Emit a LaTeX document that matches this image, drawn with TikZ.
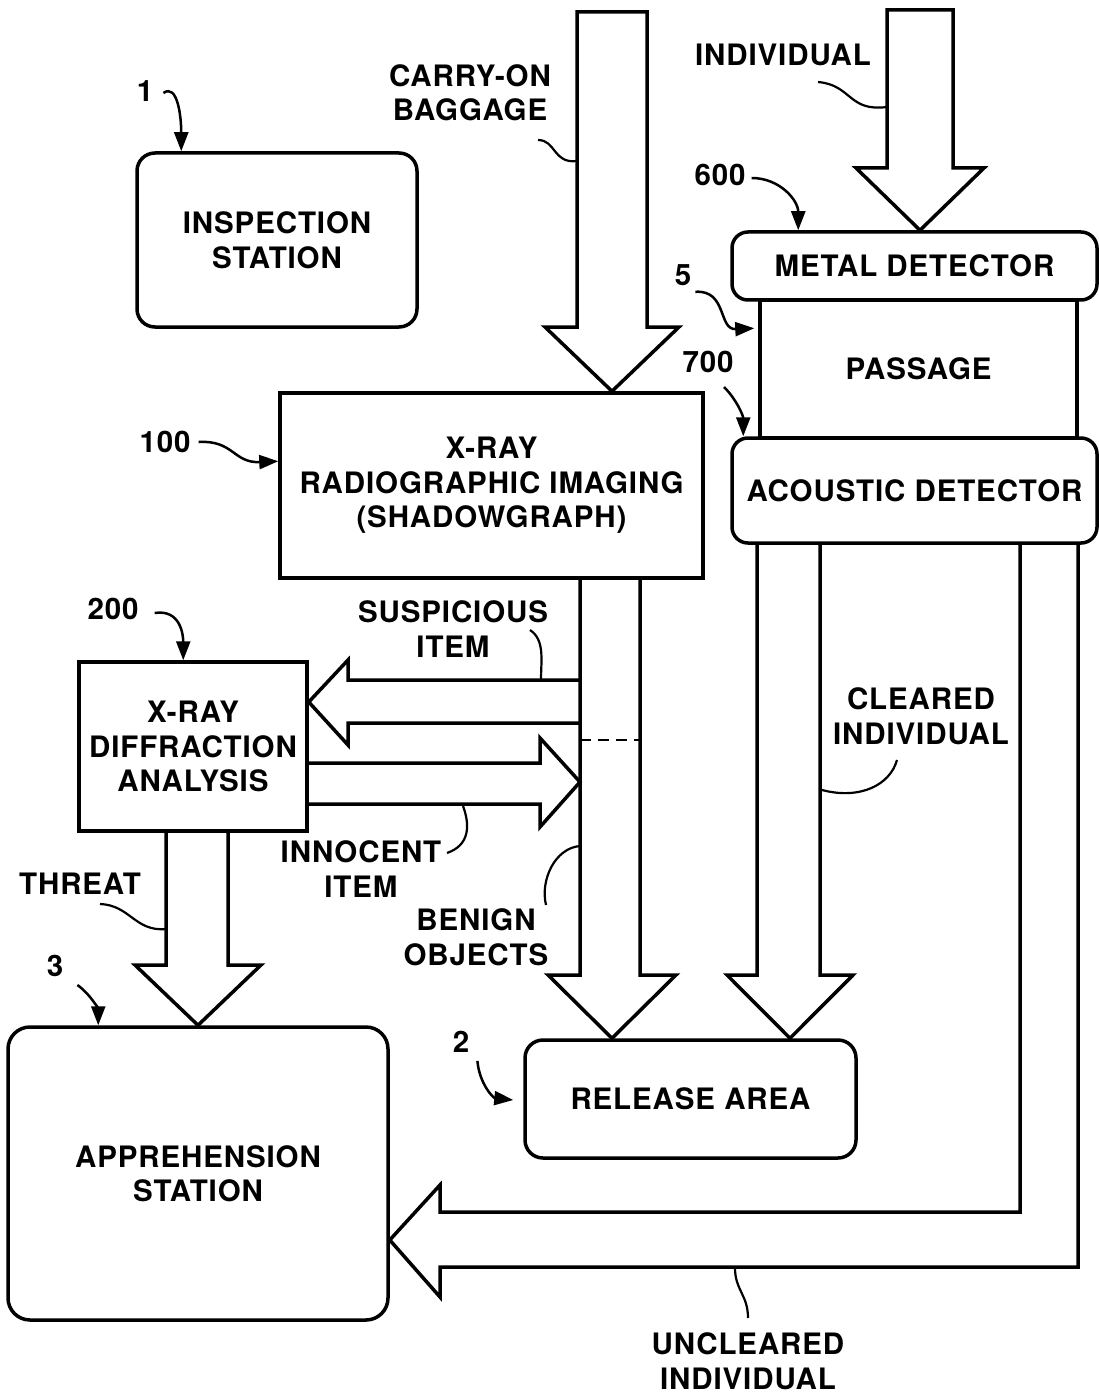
\documentclass[tikz,border=0pt]{standalone}
\usepackage{fontspec}
\setmainfont[LetterSpace=3]{TeX Gyre Heros}
\usetikzlibrary{positioning, arrows.meta, calc}
\colorlet{drawColor}{black}
\tikzstyle{box}=[rectangle, draw=drawColor, line width=3.5pt, align=center, inner sep=0pt]
\tikzstyle{rbox}=[box, rounded corners=16pt]
\tikzstyle{tag}=[align=center, inner sep=0pt]
\tikzstyle{blockArrow}=[draw=drawColor, line width=3.5pt, line join=miter]
\tikzstyle{pointer}=[-{Triangle[length=19pt,width=14pt]}, line width=2.5pt, draw=drawColor]
\tikzstyle{leader}=[line width=2.2pt, draw=drawColor]

\begin{document}
\begin{tikzpicture}[x=1pt, y=-1pt, font=\fontsize{29.5}{34.5}\selectfont\bfseries]
      \useasboundingbox (0,0) rectangle (1099,1396);
      % stations
      \node(insp) [rbox, rounded corners=18pt, minimum width=280pt, minimum height=174pt] at (277,240) {INSPECTION\\STATION};
      \node(passage) [box, minimum width=317pt, minimum height=138pt] at (918.5,369) {PASSAGE};
      \node(metal) [rbox, minimum width=365pt, minimum height=68pt] at (914.5,266) {METAL DETECTOR};
      \node(acoustic) [rbox, minimum width=365pt, minimum height=105pt] at (914.5,490.5) {ACOUSTIC DETECTOR};
      \node(xray) [box, minimum width=423pt, minimum height=185pt] at (491.5,485.5)
      {X-RAY\\RADIOGRAPHIC IMAGING\\(SHADOWGRAPH)};
      \node(diff) [box, minimum width=228pt, minimum height=169pt] at (193,746.5)
      {X-RAY\\DIFFRACTION\\ANALYSIS};
      \node(appr) [rbox, rounded corners=22pt, minimum width=380pt, minimum height=293pt] at (198,1173.5)
      {APPREHENSION\\STATION};
      \node(release) [rbox, rounded corners=18pt, minimum width=331pt, minimum height=118pt] at (690.5,1099) {RELEASE AREA};

      % reference numerals
      \node(n1) [tag] at (145,91) {1};
      \node(n600) [tag] at (720,175) {600};
      \node(n5) [tag] at (683,275) {5};
      \node(n700) [tag] at (708,362) {700};
      \node(n100) [tag] at (165,442) {100};
      \node(n200) [tag] at (113,609) {200};
      \node(n3) [tag] at (55,966) {3};
      \node(n2) [tag] at (461,1042) {2};

      % flow labels
      \node(tBaggage) [tag] at (470,93) {CARRY-ON\\BAGGAGE};
      \node(tIndividual) [tag] at (783,55) {INDIVIDUAL};
      \node(tSuspicious) [tag] at (453,629) {SUSPICIOUS\\ITEM};
      \node(tInnocent) [tag] at (361,869) {INNOCENT\\ITEM};
      \node(tBenign) [tag] at (476,937) {BENIGN\\OBJECTS};
      \node(tThreat) [tag] at (80,884) {THREAT};
      \node(tCleared) [tag] at (921,716) {CLEARED\\INDIVIDUAL};
      \node(tUncleared) [tag] at (748,1361) {UNCLEARED\\INDIVIDUAL};

      % block arrows
      \draw [blockArrow] (577,12) -- (577,327) -- (545,327) -- (xray.north -| 612,0)
        -- (679,327) -- (647,327) -- (647,12) -- cycle;
      \draw [blockArrow] (887,10) -- (887,168) -- (856,168) -- (metal.north -| 920,0)
        -- (984,168) -- (953,168) -- (953,10) -- cycle;
      \draw [blockArrow] (xray.south -| 580,0) -- (580,975) -- (548,975) -- (release.north -| 612,0)
        -- (676,975) -- (640,975) -- (xray.south -| 640,0);
      \draw [blockArrow] (580,680) -- (348,680) -- (348,660) -- (diff.east |- 0,702)
        -- (348,745) -- (348,723) -- (580,723);
      \draw [blockArrow] (diff.east |- 0,763) -- (540,763) -- (540,738) -- (580,782)
        -- (540,827) -- (540,804) -- (diff.east |- 0,804);
      \draw [blockArrow, dashed, dash pattern=on 11pt off 7pt, line width=2.5pt] (580,740) -- (640,740);
      \draw [blockArrow] (diff.south -| 166,0) -- (166,965) -- (135,965) -- (appr.north -| 198,0)
        -- (261,965) -- (228,965) -- (diff.south -| 228,0);
      \draw [blockArrow] (acoustic.south -| 757,0) -- (757,975) -- (727,975) -- (release.north -| 790,0)
        -- (853,975) -- (820,975) -- (acoustic.south -| 820,0);
      \draw [blockArrow] (acoustic.south -| 1020,0) -- (1020,1212) -- (440,1212) -- (440,1185)
        -- (appr.east |- 0,1240) -- (440,1297) -- (440,1267) -- (1078,1267) -- (acoustic.south -| 1078,0);

      % numeral pointers
      \draw [pointer] ($(n1.east)+(10,2)$) .. controls +(14,-10) and +(0,-35) .. ($(insp.north west)+(46,0)$);
      \draw [pointer] ($(n600.east)+(6,3)$) .. controls +(28,0) and +(0,-30) .. ($(metal.north west)+(68,0)$);
      \draw [pointer] ($(n5.south east)+(4,6)$) .. controls +(32,-2) and (718,330) .. ($(passage.north west)+(-4,30)$);
      \draw [pointer] ($(n700.south)+(16,14)$) .. controls +(13,13) and +(0,-20) .. ($(acoustic.north west)+(13,0)$);
      \draw [pointer] ($(n100.east)+(8,0)$) .. controls +(35,-2) and +(-45,2) .. ($(xray.north west)+(0,70)$);
      \draw [pointer] ($(n200.east)+(16,4)$) .. controls +(26,-4) and +(0,-25) .. ($(diff.north west)+(106,0)$);
      \draw [pointer] ($(n3.south east)+(14,8)$) .. controls +(14,10) and +(0,-15) .. ($(appr.north west)+(92,0)$);
      \draw [pointer] ($(n2.south east)+(8,8)$) .. controls +(2,23) and +(-20,-2) .. ($(release.west)+(-10,1)$);

      % label leaders
      \draw [leader] (538,140) .. controls (556,140) and (553,164) .. (577,161);
      \draw [leader] (818,82) .. controls (852,85) and (848,112) .. (887,107);
      \draw [leader] (530,630) .. controls (545,640) and (541,660) .. (541,680);
      \draw [leader] (447,853) .. controls (470,845) and (470,825) .. (463,806);
      \draw [leader] (546,905) .. controls (540,880) and (555,848) .. (580,846);
      \draw [leader] (100,904) .. controls (130,905) and (135,932) .. (166,929);
      \draw [leader] (897,760) .. controls (890,785) and (860,800) .. (822,790);
      \draw [leader] (748,1318) .. controls (748,1295) and (735,1290) .. (735,1268);
    \end{tikzpicture}
\end{document}
